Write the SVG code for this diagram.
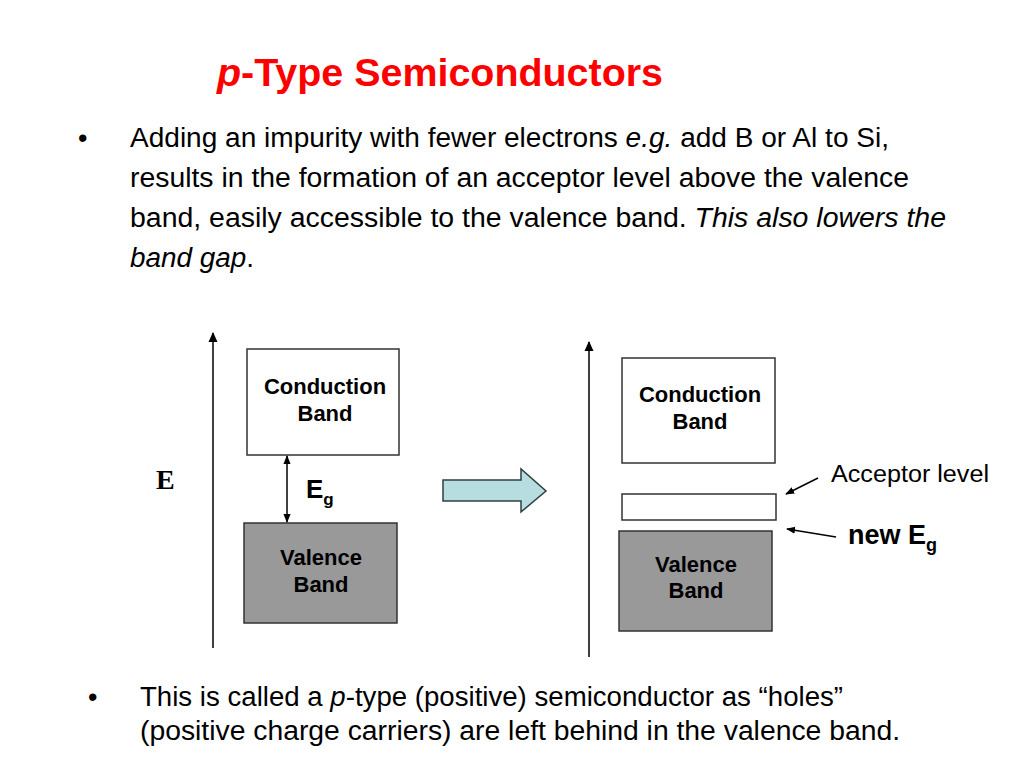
<svg xmlns="http://www.w3.org/2000/svg" width="1024" height="768" viewBox="0 0 1024 768">
<defs>
<style>
.body{font-family:"Liberation Sans",Arial,sans-serif;font-size:27px;fill:#000}
.lbl{font-family:"Liberation Sans",Arial,sans-serif;font-size:22px;font-weight:bold;fill:#000;text-anchor:middle}
.box{stroke:#333;stroke-width:1.5}
.conn{stroke:#000;stroke-width:1.5;fill:none}
.it{font-style:italic}
</style>
<marker id="ah" viewBox="0 0 10 10" refX="9" refY="5" markerWidth="10" markerHeight="10" markerUnits="userSpaceOnUse" orient="auto-start-reverse">
<path d="M0,0.5 L10,5 L0,9.5 Z" fill="#000"/>
</marker>
<marker id="ahs" viewBox="0 0 10 10" refX="9" refY="5" markerWidth="9" markerHeight="9" markerUnits="userSpaceOnUse" orient="auto-start-reverse">
<path d="M0,1 L10,5 L0,9 Z" fill="#000"/>
</marker>
</defs>
<rect width="1024" height="768" fill="#fff"/>

<g id="title">
<text x="217" y="86" font-family="Liberation Sans,Arial,sans-serif" font-size="39" font-weight="bold" fill="#ff0000" textLength="446" lengthAdjust="spacingAndGlyphs"><tspan font-style="italic">p</tspan>-Type Semiconductors</text>
</g>

<g id="bullet1">
<text x="78" y="147" class="body" font-size="20">•</text>
<text x="130" y="147" class="body" textLength="759" lengthAdjust="spacingAndGlyphs">Adding an impurity with fewer electrons <tspan class="it">e.g.</tspan> add B or Al to Si,</text>
<text x="130" y="187" class="body" textLength="779" lengthAdjust="spacingAndGlyphs">results in the formation of an acceptor level above the valence</text>
<text x="130" y="227" class="body" textLength="816" lengthAdjust="spacingAndGlyphs">band, easily accessible to the valence band. <tspan class="it">This also lowers the</tspan></text>
<text x="130" y="267" class="body" textLength="124" lengthAdjust="spacingAndGlyphs"><tspan class="it">band gap</tspan>.</text>
</g>

<g id="axis-label">
<text x="156" y="489" font-family="Liberation Serif,Times New Roman,serif" font-size="28" font-weight="bold" fill="#000">E</text>
</g>

<g id="left-conduction">
<rect x="247" y="349" width="152" height="106" fill="#fff" class="box"/>
<text x="325" y="394" class="lbl">Conduction</text>
<text x="325" y="421" class="lbl">Band</text>
</g>

<g id="left-valence">
<rect x="244" y="523" width="153" height="100" fill="#999999" class="box"/>
<text x="321" y="565" class="lbl">Valence</text>
<text x="321" y="592" class="lbl">Band</text>
</g>

<g id="left-eg">
<text x="306" y="498" font-family="Liberation Sans,Arial,sans-serif" font-size="26" font-weight="bold" fill="#000">E<tspan font-size="17" dy="7">g</tspan></text>
</g>

<g id="transition-arrow">
<path d="M443,480 L521,480 L521,469 L546,491 L521,512 L521,501 L443,501 Z" fill="#b7dde0" stroke="#2f3f40" stroke-width="1.5" stroke-linejoin="miter"/>
</g>

<g id="right-conduction">
<rect x="622" y="358" width="153" height="105" fill="#fff" class="box"/>
<text x="700" y="402" class="lbl">Conduction</text>
<text x="700" y="429" class="lbl">Band</text>
</g>

<g id="acceptor-level">
<rect x="622" y="494" width="154" height="26" fill="#fff" class="box"/>
</g>

<g id="right-valence">
<rect x="619" y="531" width="153" height="100" fill="#999999" class="box"/>
<text x="696" y="572" class="lbl">Valence</text>
<text x="696" y="598" class="lbl">Band</text>
</g>

<g id="acceptor-label">
<text x="831" y="482" font-family="Liberation Sans,Arial,sans-serif" font-size="23" fill="#000" textLength="158" lengthAdjust="spacingAndGlyphs">Acceptor level</text>
</g>

<g id="new-eg-label">
<text x="848" y="544" font-family="Liberation Sans,Arial,sans-serif" font-size="27" font-weight="bold" fill="#000">new E<tspan font-size="18" dy="7">g</tspan></text>
</g>

<g id="connectors">
<line x1="213" y1="648" x2="213" y2="333" class="conn" marker-end="url(#ah)"/>
<line x1="589" y1="657" x2="589" y2="342" class="conn" marker-end="url(#ah)"/>
<line x1="287" y1="456" x2="287" y2="522" class="conn" marker-start="url(#ahs)" marker-end="url(#ahs)"/>
<line x1="818" y1="478" x2="786" y2="494" class="conn" stroke-width="1.2" marker-end="url(#ahs)"/>
<line x1="836" y1="537" x2="787" y2="529" class="conn" stroke-width="1.2" marker-end="url(#ahs)"/>
</g>

<g id="bullet2">
<text x="88" y="706" class="body" font-size="20">•</text>
<text x="140" y="706" class="body" textLength="703" lengthAdjust="spacingAndGlyphs">This is called a <tspan class="it">p</tspan>-type (positive) semiconductor as “holes”</text>
<text x="140" y="740" class="body" textLength="760" lengthAdjust="spacingAndGlyphs">(positive charge carriers) are left behind in the valence band.</text>
</g>
</svg>
